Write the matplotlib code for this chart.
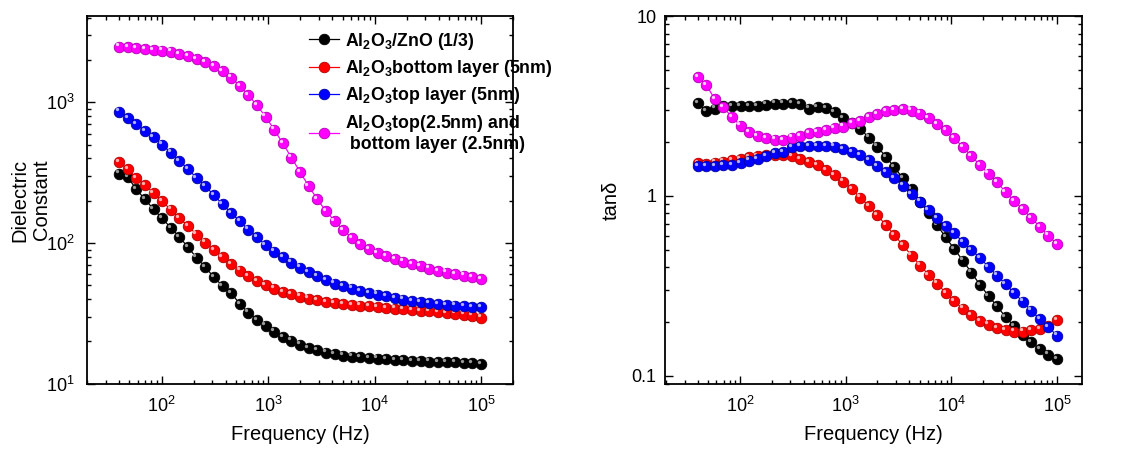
import matplotlib
matplotlib.use('Agg')
import matplotlib.pyplot as plt
from matplotlib.transforms import ScaledTranslation

plt.rcParams['font.family'] = ['Liberation Sans', 'DejaVu Sans']
plt.rcParams['mathtext.fontset'] = 'custom'
plt.rcParams['mathtext.rm'] = 'Liberation Sans'
plt.rcParams['mathtext.bf'] = 'Liberation Sans:bold'

# frequency sweep (Hz)
freq = [40, 48.2, 58.1, 69.9, 84.2, 101.5, 122.3, 147.3, 177.4, 213.8, 257.5,
        310.2, 373.7, 450.2, 542.4, 653.4, 787.1, 948.2, 1142, 1376, 1658, 1997,
        2406, 2898, 3491, 4206, 5067, 6104, 7353, 8858, 10671, 12855, 15486,
        18656, 22474, 27074, 32615, 39290, 47332, 57019, 68689, 82748, 100000]

# dielectric constant
eps_zno = [312, 294, 241, 205, 174, 150, 128.5, 111, 93.2, 78.8, 67.6, 57.2,
           49.7, 44.3, 37.0, 32.1, 28.5, 25.9, 23.5, 21.4, 20.3, 19.0, 18.0,
           17.3, 16.7, 16.3, 15.9, 15.6, 15.4, 15.2, 15.1, 15.0, 14.8, 14.7,
           14.6, 14.5, 14.4, 14.3, 14.2, 14.2, 14.1, 14.0, 13.8]
eps_bottom = [376, 336, 290, 260, 227, 198, 173, 151, 132, 115, 101, 89.2,
              79.6, 71.0, 63.7, 58.1, 53.8, 50.2, 47.5, 45.0, 43.3, 41.7, 40.4,
              39.3, 38.3, 37.6, 37.0, 36.4, 36.0, 35.5, 35.1, 34.7, 34.3, 33.9,
              33.6, 33.0, 32.7, 32.3, 32.0, 31.6, 31.1, 30.6, 29.6]
eps_top = [859, 771, 703, 627, 565, 501, 440, 385, 336, 290, 255, 219, 189,
           164, 143, 125, 110, 96.8, 86.9, 79.2, 72.6, 66.9, 62.3, 58.4, 54.7,
           51.5, 49.4, 47.5, 45.7, 44.0, 43.1, 41.9, 40.8, 39.7, 38.9, 38.0,
           37.4, 36.8, 36.4, 36.0, 35.7, 35.3, 34.9]
eps_both = [2490, 2465, 2440, 2400, 2360, 2335, 2295, 2200, 2128, 2037, 1940,
            1816, 1674, 1503, 1312, 1127, 952, 792, 641, 511, 406, 320, 255,
            205, 169, 144, 124, 109, 98.9, 91.2, 85, 80.5, 77.1, 73.8, 71.0,
            68.4, 65.8, 63.4, 61.7, 60.4, 58.8, 57.2, 55.3]

# loss tangent
tan_zno = [3.27, 2.97, 3.06, 3.16, 3.16, 3.16, 3.16, 3.16, 3.22, 3.26, 3.26,
           3.27, 3.23, 3.06, 3.13, 3.07, 2.92, 2.71, 2.53, 2.36, 2.11, 1.88,
           1.65, 1.44, 1.25, 1.09, 0.930, 0.801, 0.687, 0.587, 0.506, 0.436,
           0.374, 0.320, 0.278, 0.243, 0.212, 0.188, 0.168, 0.153, 0.141,
           0.131, 0.123]
tan_bottom = [1.52, 1.51, 1.53, 1.55, 1.58, 1.61, 1.64, 1.67, 1.69, 1.68, 1.68,
              1.67, 1.61, 1.54, 1.49, 1.39, 1.31, 1.20, 1.09, 0.979, 0.880,
              0.781, 0.687, 0.605, 0.530, 0.466, 0.410, 0.364, 0.325, 0.288,
              0.259, 0.236, 0.218, 0.202, 0.192, 0.183, 0.179, 0.176, 0.176,
              0.179, 0.182, 0.188, 0.203]
tan_top = [1.47, 1.47, 1.46, 1.48, 1.49, 1.52, 1.57, 1.61, 1.67, 1.73, 1.76,
           1.86, 1.89, 1.90, 1.90, 1.90, 1.88, 1.82, 1.76, 1.68, 1.58, 1.46,
           1.35, 1.25, 1.14, 1.02, 0.930, 0.836, 0.755, 0.678, 0.618, 0.555,
           0.501, 0.451, 0.403, 0.360, 0.323, 0.288, 0.258, 0.230, 0.206,
           0.186, 0.167]
tan_both = [4.60, 4.14, 3.44, 3.11, 2.74, 2.46, 2.26, 2.15, 2.09, 2.06, 2.05,
            2.11, 2.15, 2.23, 2.27, 2.33, 2.38, 2.43, 2.53, 2.62, 2.74, 2.86,
            2.95, 3.00, 3.03, 2.98, 2.87, 2.71, 2.51, 2.32, 2.09, 1.87, 1.67,
            1.48, 1.33, 1.19, 1.05, 0.938, 0.843, 0.755, 0.673, 0.602, 0.539]

labels = [r'Al$_{\mathbf{2}}$O$_{\mathbf{3}}$/ZnO (1/3)',
          r'Al$_{\mathbf{2}}$O$_{\mathbf{3}}$bottom layer (5nm)',
          r'Al$_{\mathbf{2}}$O$_{\mathbf{3}}$top layer (5nm)',
          r'Al$_{\mathbf{2}}$O$_{\mathbf{3}}$top(2.5nm) and' + '\n bottom layer (2.5nm)']
colors = ['#000000', '#ff0000', '#0000ff', '#ff00ff']
edges = ['#000000', '#b00000', '#0000a0', '#b000b0']
shines = ['#9a9a9a', '#ffb0b0', '#b0b0ff', '#ffd0ff']

fig = plt.figure(figsize=(11.23, 4.5), dpi=100)
ax1 = fig.add_axes([0.0775, 0.147, 0.3795, 0.817])
ax2 = fig.add_axes([0.592, 0.147, 0.3715, 0.817])

shift = ScaledTranslation(-1.6 / 72, 1.6 / 72, fig.dpi_scale_trans)


def draw(ax, series):
    for y, c, e, s, lab in zip(series, colors, edges, shines, labels):
        ax.plot(freq, y, '-', color=c, lw=0.9, marker='o', ms=7.6,
                mfc=c, mec=e, mew=0.6, label=lab)
        # little highlight so the markers look like shaded balls
        ax.plot(freq, y, 'o', ms=2.4, mfc=s, mec='none',
                transform=ax.transData + shift)


draw(ax1, [eps_zno, eps_bottom, eps_top, eps_both])
draw(ax2, [tan_zno, tan_bottom, tan_top, tan_both])

for ax in (ax1, ax2):
    ax.set_xscale('log')
    ax.set_yscale('log')
    ax.tick_params(which='both', direction='in', top=True, right=True,
                   labelsize=13, width=1.0)
    ax.tick_params(which='major', length=6, pad=9)
    ax.tick_params(which='minor', length=3)
    for sp in ax.spines.values():
        sp.set_linewidth(1.3)
    ax.set_xlabel('Frequency (Hz)', fontsize=14.5, labelpad=6)

ax1.set_xlim(20, 2e5)
ax1.set_ylim(10, 4100)
ax1.set_ylabel('Dielectric\nConstant', fontsize=14.5, labelpad=-4)

ax2.set_xlim(19.5, 1.72e5)
ax2.set_ylim(0.09, 10)
ax2.set_yticks([0.1, 1, 10])
ax2.set_yticklabels(['0.1', '1', '10'])
ax2.tick_params(axis='y', pad=6)
ax2.set_ylabel('tan\u03b4', fontsize=14.5, labelpad=8)

ax1.legend(loc='upper left', bbox_to_anchor=(0.50, 0.985), frameon=False,
           borderpad=0, handlelength=1.7, handletextpad=0.3, labelspacing=0.36,
           prop={'weight': 'bold', 'size': 12.8})

fig.savefig('out.png', dpi=100)
